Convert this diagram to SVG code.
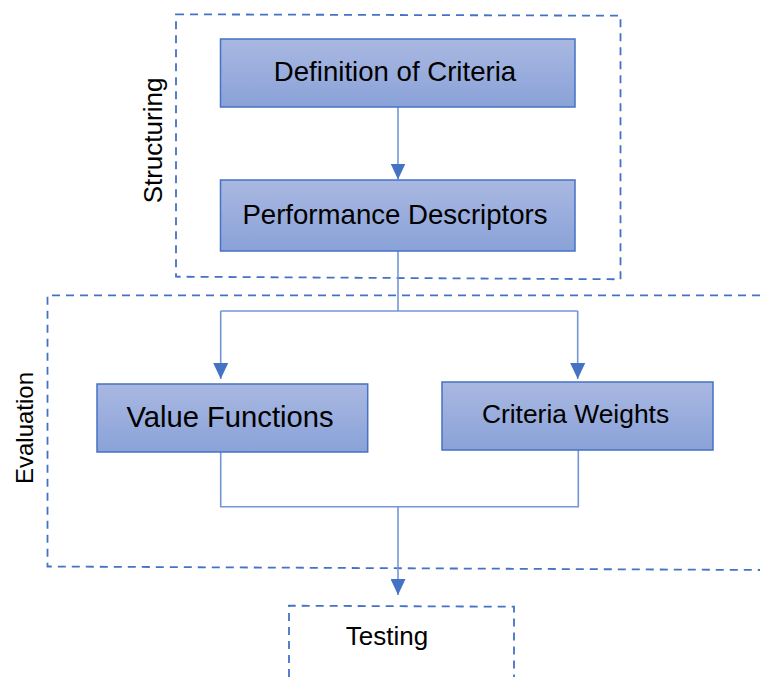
<svg xmlns="http://www.w3.org/2000/svg" width="760" height="677" viewBox="0 0 760 677">
  <defs>
    <linearGradient id="boxFill" x1="0" y1="0" x2="0" y2="1">
      <stop offset="0" stop-color="#A9B8E1"/>
      <stop offset="1" stop-color="#8AA2D8"/>
    </linearGradient>
    <marker id="arrow" viewBox="0 0 16 15" refX="16" refY="7.5" markerWidth="16" markerHeight="15" markerUnits="userSpaceOnUse" orient="auto">
      <path d="M0,0 L16,7.5 L0,15 Z" fill="#4472C4"/>
    </marker>
    <style>
      .frame { fill: none; stroke: #4472C4; stroke-width: 1.8; stroke-dasharray: 8 6; }
      .box { fill: url(#boxFill); stroke: #4472C4; stroke-width: 1.5; }
      .label { font-family: "Liberation Sans", Arial, sans-serif; fill: #000; text-anchor: middle; }
      .link { fill: none; stroke: #7396D8; stroke-width: 1.6; }
    </style>
  </defs>
  <rect width="760" height="677" fill="#fff"/>

  <!-- stage frames -->
  <g id="structuring">
    <path class="frame" d="M176,14.3 L620.5,15.7 L620.5,279.3 L176,276.7 Z"/>
    <text class="label" transform="translate(162,140.5) rotate(-90)" font-size="26">Structuring</text>
  </g>
  <g id="evaluation">
    <path class="frame" d="M760,295.3 L47.5,295.3 L47.5,566.5 L760,570"/>
    <text class="label" transform="translate(33,428) rotate(-90)" font-size="24">Evaluation</text>
  </g>
  <g id="testing">
    <path class="frame" d="M289,677 L289,605.7 L514,606.7 L514,677"/>
    <text class="label" x="387" y="645" font-size="26">Testing</text>
  </g>

  <!-- connectors -->
  <g id="connectors">
    <path class="link" d="M398,107 L398,179.5" marker-end="url(#arrow)"/>
    <path class="link" d="M398,251 L398,311 M220.7,311 L577.7,311"/>
    <path class="link" d="M220.7,311 L220.7,379" marker-end="url(#arrow)"/>
    <path class="link" d="M577.7,311 L577.7,379" marker-end="url(#arrow)"/>
    <path class="link" d="M220.7,452 L220.7,506.7 L578.3,506.7 L578.3,450"/>
    <path class="link" d="M398,506.7 L398,595" marker-end="url(#arrow)"/>
  </g>

  <!-- process nodes -->
  <g id="definition-of-criteria">
    <rect class="box" x="220.5" y="39" width="354.5" height="68"/>
    <text class="label" x="395" y="81" font-size="27.6">Definition of Criteria</text>
  </g>
  <g id="performance-descriptors">
    <rect class="box" x="220.5" y="180" width="354.5" height="71"/>
    <text class="label" x="395" y="224" font-size="27.6">Performance Descriptors</text>
  </g>
  <g id="value-functions">
    <rect class="box" x="97" y="384" width="270.7" height="68"/>
    <text class="label" x="230" y="427" font-size="29.2">Value Functions</text>
  </g>
  <g id="criteria-weights">
    <rect class="box" x="442" y="382" width="271" height="68"/>
    <text class="label" x="575.5" y="423" font-size="26.4">Criteria Weights</text>
  </g>
</svg>
